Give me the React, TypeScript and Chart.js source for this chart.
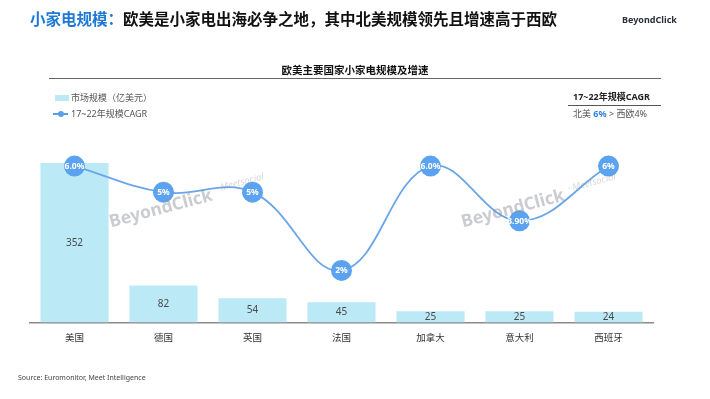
import React, { useEffect, useRef } from "react";
import { Chart, registerables } from "chart.js";

Chart.register(...registerables);

const categories = ["美国", "德国", "英国", "法国", "加拿大", "意大利", "西班牙"];
const marketSize = [352, 82, 54, 45, 25, 25, 24];
const cagrValues = [6.0, 5.0, 5.0, 2.0, 6.0, 3.9, 6.0];
const cagrLabels = ["6.0%", "5%", "5%", "2%", "6.0%", "3.90%", "6%"];

const FONT = '"Noto Sans", "Noto Sans CJK SC", sans-serif';
const CJK = '"Noto Sans CJK SC", "Noto Sans", sans-serif';

const labelPlugin = {
  id: "customLabels",
  afterDatasetsDraw(chart: any) {
    const ctx = chart.ctx;
    ctx.save();
    // watermarks
    const drawMark = (cx: number, cy: number) => {
      ctx.save();
      ctx.translate(cx, cy);
      ctx.rotate(-0.26);
      ctx.globalAlpha = 0.45;
      ctx.fillStyle = "#8a8f99";
      let size = 18;
      ctx.font = `bold ${size}px ${FONT}`;
      const w = ctx.measureText("BeyondClick").width;
      size = (size * 106) / w;
      ctx.font = `bold ${size}px ${FONT}`;
      ctx.textAlign = "center";
      ctx.textBaseline = "middle";
      ctx.fillText("BeyondClick", 0, 0);
      ctx.globalAlpha = 0.35;
      ctx.font = `italic 9.5px ${FONT}`;
      ctx.textAlign = "left";
      ctx.fillText("· Meetsocial", 58, -5);
      ctx.restore();
    };
    drawMark(161, 209);
    drawMark(513, 209);

    const barMeta = chart.getDatasetMeta(0);
    ctx.font = `10px ${FONT}`;
    ctx.fillStyle = "#4a4a4a";
    ctx.textAlign = "center";
    ctx.textBaseline = "middle";
    barMeta.data.forEach((el: any, i: number) => {
      const p = el.getProps(["x", "y", "base"], true);
      ctx.fillText(String(marketSize[i]), p.x, (p.y + p.base) / 2);
    });

    const lineMeta = chart.getDatasetMeta(1);
    ctx.font = `bold 8.5px ${FONT}`;
    ctx.fillStyle = "#ffffff";
    lineMeta.data.forEach((el: any, i: number) => {
      const p = el.getProps(["x", "y"], true);
      ctx.fillText(cagrLabels[i], p.x, p.y + 0.5);
    });
    ctx.restore();
  },
};

export default function App() {
  const ref = useRef<HTMLCanvasElement | null>(null);
  useEffect(() => {
    if (!ref.current) return;
    const chart = new Chart(ref.current, {
      type: "bar",
      data: {
        labels: categories,
        datasets: [
          {
            type: "bar",
            label: "市场规模（亿美元）",
            data: marketSize,
            backgroundColor: "#bbe9f6",
            borderWidth: 0,
            barPercentage: 0.765,
            categoryPercentage: 1,
            yAxisID: "y",
            order: 2,
          },
          {
            type: "line",
            label: "17~22年规模CAGR",
            data: cagrValues,
            borderColor: "#6aa6e8",
            borderWidth: 1.8,
            pointRadius: 10.5,
            pointBackgroundColor: "#5ba3f0",
            pointBorderColor: "#5ba3f0",
            pointBorderWidth: 0,
            tension: 0.4,
            yAxisID: "y1",
            order: 1,
          } as any,
        ],
      },
      options: {
        animation: false,
        responsive: false,
        maintainAspectRatio: false,
        devicePixelRatio: 1,
        layout: { padding: { left: 30, right: 57, top: 140, bottom: 47 } },
        plugins: {
          legend: { display: false },
          tooltip: { enabled: false },
          title: { display: false },
        },
        scales: {
          x: {
            grid: { display: false, drawTicks: false },
            border: { display: true, color: "#8a8a8a", width: 1.5 },
            ticks: {
              color: "#333333",
              font: { size: 9.5, family: CJK },
              padding: 9,
            },
          },
          y: { display: false, min: 0, max: 403 },
          y1: { display: false, min: 0, max: 7, position: "right" },
        },
      },
      plugins: [labelPlugin],
    });
    return () => chart.destroy();
  }, []);

  const abs = (s: React.CSSProperties): React.CSSProperties => ({
    position: "absolute",
    whiteSpace: "nowrap",
    ...s,
  });

  return (
    <div
      style={{
        position: "fixed",
        left: 0,
        top: 0,
        width: 710,
        height: 399,
        background: "#ffffff",
        fontFamily: FONT,
        overflow: "hidden",
      }}
    >
      <canvas ref={ref} width={710} height={399} style={{ position: "absolute", left: 0, top: 0 }} />
      <div style={abs({ left: 30, top: 7, fontSize: 15.5, fontWeight: 700, fontFamily: CJK, lineHeight: "22px" })}>
        <span style={{ color: "#1f7ad6" }}>小家电规模：</span>
        <span style={{ color: "#111111" }}>欧美是小家电出海必争之地，其中北美规模领先且增速高于西欧</span>
      </div>
      <div style={abs({ left: 622, top: 13, fontSize: 9, fontWeight: 700, color: "#2a2f3a", lineHeight: "14px" })}>
        BeyondClick
      </div>
      <div
        style={abs({
          left: 0,
          width: 710,
          textAlign: "center",
          top: 62,
          fontSize: 10.5,
          fontWeight: 700,
          fontFamily: CJK,
          color: "#111",
          lineHeight: "16px",
        })}
      >
        欧美主要国家小家电规模及增速
      </div>
      <div style={abs({ left: 49, top: 78, width: 612, height: 1, background: "#666" })} />
      <div style={abs({ left: 55, top: 95, width: 14, height: 6, background: "#bbe9f6" })} />
      <div style={abs({ left: 71, top: 91, fontSize: 9, color: "#555", fontFamily: CJK, lineHeight: "14px" })}>
        市场规模（亿美元）
      </div>
      <div style={abs({ left: 53, top: 113, width: 15, height: 1.5, background: "#5a9fe6" })} />
      <div style={abs({ left: 58, top: 111, width: 6, height: 6, borderRadius: 3, background: "#5a9fe6" })} />
      <div style={abs({ left: 71, top: 107, fontSize: 9, color: "#555", fontFamily: FONT, lineHeight: "14px" })}>
        17~22年规模CAGR
      </div>
      <div style={abs({ left: 573, top: 90, fontSize: 9, fontWeight: 700, color: "#222", lineHeight: "14px" })}>
        17~22年规模CAGR
      </div>
      <div style={abs({ left: 568, top: 105, width: 93, height: 1, background: "#555" })} />
      <div style={abs({ left: 573, top: 107, fontSize: 9, color: "#555", lineHeight: "14px" })}>
        北美 <span style={{ color: "#2d7fd8", fontWeight: 700 }}>6%</span> &gt; 西欧4%
      </div>
      <div style={abs({ left: 18, top: 373, fontSize: 7, color: "#444", lineHeight: "10px" })}>
        Source: Euromonitor, Meet Intelligence
      </div>
    </div>
  );
}
